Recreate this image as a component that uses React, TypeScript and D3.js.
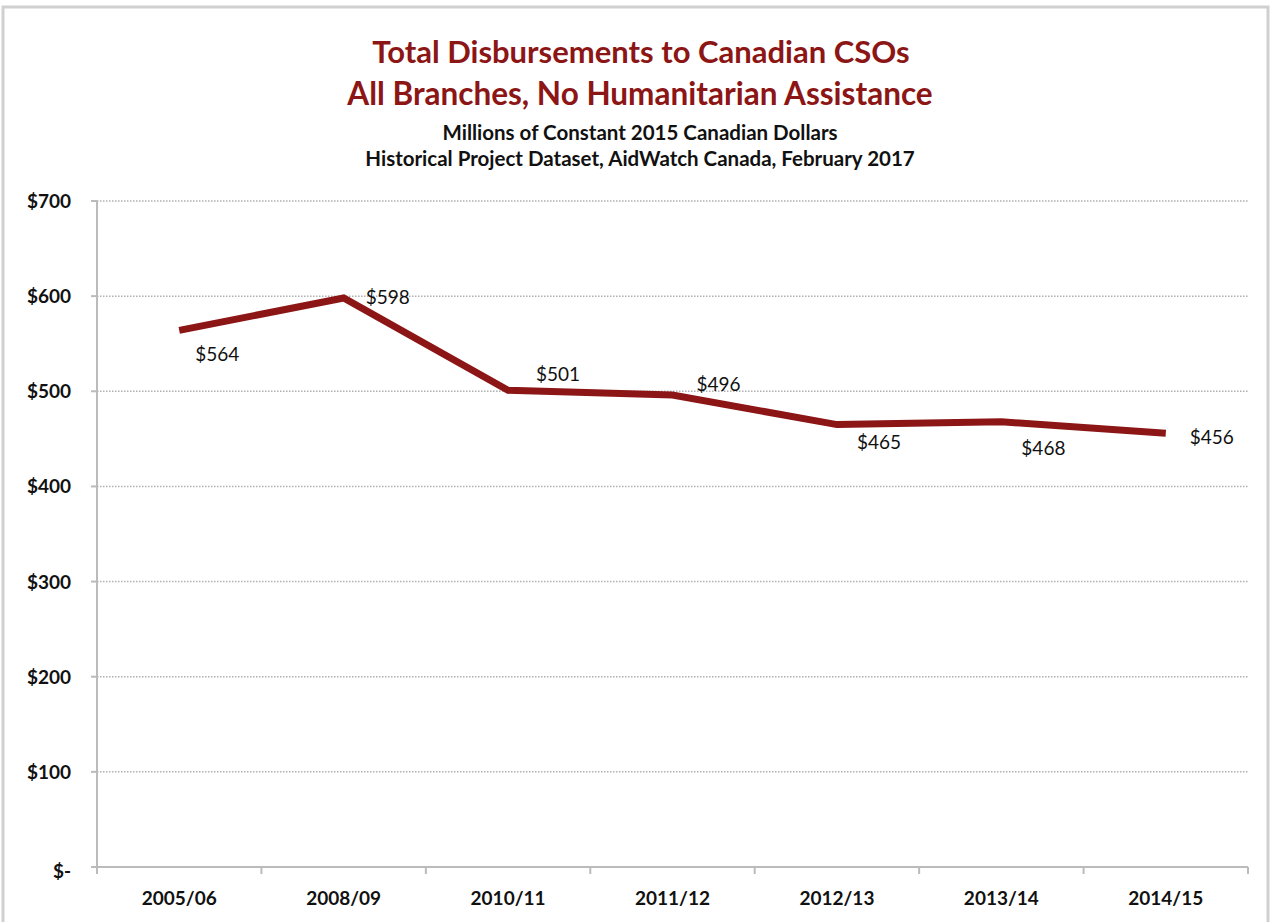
import React from "react";
import * as d3 from "d3";

const categories = ["2005/06", "2008/09", "2010/11", "2011/12", "2012/13", "2013/14", "2014/15"];
const values = [564, 598, 501, 496, 465, 468, 456];
const yTicks = [0, 100, 200, 300, 400, 500, 600, 700];
// label placement: dx, dy relative to point
const labelOffsets: [number, number][] = [
  [16, 31], [22, 6], [28, -9], [24, -4], [20, 24], [20, 33], [24, 11],
];

const W = 1275, H = 922;
const M = { left: 97, right: 1248, top: 201, bottom: 867 };
const FONT = "Lato, 'Open Sans', sans-serif";

export default function App() {
  const x = d3.scaleBand<string>().domain(categories).range([M.left, M.right]).padding(0);
  const y = d3.scaleLinear().domain([0, 700]).range([M.bottom, M.top]);
  const cx = (c: string) => (x(c) as number) + x.bandwidth() / 2;
  const line = d3.line<number>().x((_, i) => cx(categories[i])).y((v) => y(v));
  const fmt = (v: number) => (v === 0 ? "$-" : "$" + v);
  const red = "#8c1515";
  const boundaries = categories.map((c) => x(c) as number).concat([M.right]);
  return (
    <svg width={W} height={H} style={{ position: "absolute", left: 0, top: 0 }}>
      <rect x={0} y={0} width={W} height={H} fill="#fff" />
      <rect x={3} y={7} width={1265} height={930} fill="none" stroke="#d0d0d0" strokeWidth={3} />
      <g fontFamily={FONT} textAnchor="middle" fontWeight="bold">
        <text x={641} y={63} fontSize={31} fill={red}>Total Disbursements to Canadian CSOs</text>
        <text x={640} y={105} fontSize={31.5} fill={red}>All Branches, No Humanitarian Assistance</text>
        <text x={640} y={140} fontSize={20.5} fill="#111">Millions of Constant 2015 Canadian Dollars</text>
        <text x={640} y={166} fontSize={20.5} fill="#111">Historical Project Dataset, AidWatch Canada, February 2017</text>
      </g>
      {yTicks.filter((t) => t > 0).map((t) => (
        <line key={"g" + t} x1={M.left} x2={M.right} y1={y(t)} y2={y(t)} stroke="#b0b0b0" strokeWidth={1.5} strokeDasharray="1.5 1.5" />
      ))}
      {yTicks.map((t) => (
        <line key={"t" + t} x1={M.left - 6} x2={M.left} y1={y(t)} y2={y(t)} stroke="#bbb" strokeWidth={2} />
      ))}
      <line x1={M.left} x2={M.left} y1={M.top} y2={M.bottom} stroke="#bbb" strokeWidth={2} />
      <line x1={M.left} x2={M.right} y1={M.bottom} y2={M.bottom} stroke="#bbb" strokeWidth={2} />
      {boundaries.map((b, i) => (
        <line key={"xt" + i} x1={b} x2={b} y1={M.bottom} y2={M.bottom + 7} stroke="#bbb" strokeWidth={2} />
      ))}
      <g fontFamily={FONT} fontWeight="bold" fontSize={19} fill="#111">
        {yTicks.map((t) => (
          <text key={"yl" + t} x={71} y={y(t) + 7 + (t === 0 ? 4 : 0)} textAnchor="end">{fmt(t)}</text>
        ))}
        {categories.map((c) => (
          <text key={"xl" + c} x={cx(c)} y={905} textAnchor="middle">{c}</text>
        ))}
      </g>
      <path d={line(values) || ""} fill="none" stroke={red} strokeWidth={7} strokeLinejoin="miter" />
      <g fontFamily={FONT} fontSize={19} fill="#111">
        {values.map((v, i) => (
          <text key={"dl" + i} x={cx(categories[i]) + labelOffsets[i][0]} y={y(v) + labelOffsets[i][1]}>{"$" + v}</text>
        ))}
      </g>
    </svg>
  );
}
